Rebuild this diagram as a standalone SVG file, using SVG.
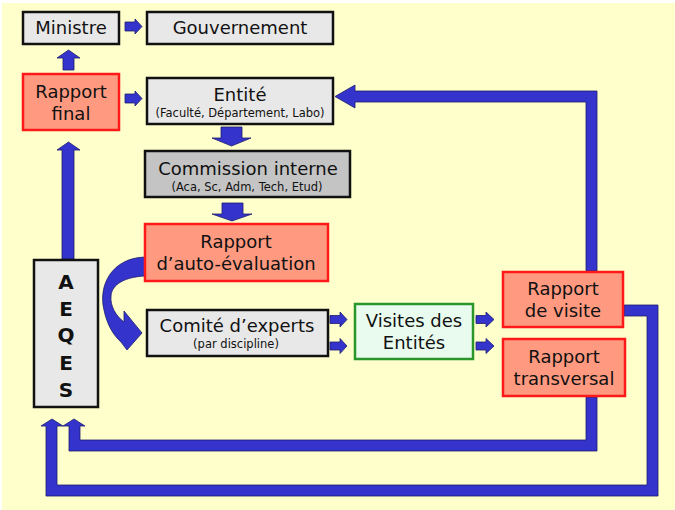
<svg xmlns="http://www.w3.org/2000/svg" width="675" height="510" viewBox="0 0 675 510">
<style>
text{font-family:"DejaVu Sans","Liberation Sans",sans-serif;fill:#111;text-anchor:middle}
.t{font-size:18px}
.s{font-size:11.5px}
.gray{fill:#e8e8e8;stroke:#111;stroke-width:2.5}
.dgray{fill:#c4c4c4;stroke:#111;stroke-width:2.5}
.red{fill:#ff9a80;stroke:#ff1a1a;stroke-width:2.5}
.green{fill:#e8fbee;stroke:#2a962a;stroke-width:2.5}
.arr{fill:#3434cc;stroke:#1c1c70;stroke-width:0.8;stroke-linejoin:miter}
.big{font-size:20px;font-weight:bold}
</style>
<rect x="2" y="3" width="673" height="507" fill="#ffffcc"/>

<g id="connectors">
  <!-- Rapport final -> Ministre -->
  <polygon class="arr" points="63,70 63,58 57,58 68.5,50 80,58 74,58 74,70"/>
  <!-- Ministre -> Gouvernement -->
  <polygon class="arr" points="125,22 135,22 135,19 142,26.5 135,34 135,31 125,31"/>
  <!-- Rapport final -> Entite -->
  <polygon class="arr" points="125,94 135,94 135,91 142,98.5 135,106 135,103 125,103"/>
  <!-- Entite -> Commission -->
  <polygon class="arr" points="221,127 242,127 242,138 251,138 231.5,146 212,138 221,138"/>
  <!-- Commission -> Rapport auto-evaluation -->
  <polygon class="arr" points="222,203 243,203 243,214 252,214 232,221 212,214 222,214"/>
  <!-- AEQES -> Rapport final -->
  <polygon class="arr" points="62,259 62,150 57,150 68.5,142 80,150 74,150 74,259"/>
  <!-- curved: Rapport auto-evaluation -> Comite -->
  <path class="arr" d="M145,257 C112,258 98,285 104,310 C107,325 114,336 121,342 L127,350 L142,333 L124,311 L124,322 C116,316 110,306 111,296 C112,284 125,277 145,276 Z"/>
  <!-- Comite -> Visites -->
  <polygon class="arr" points="330,315.5 340,315.5 340,312 347,319.5 340,327 340,323.5 330,323.5"/>
  <polygon class="arr" points="330,342 340,342 340,338.5 347,346 340,353.5 340,350 330,350"/>
  <!-- Visites -> Rapports -->
  <polygon class="arr" points="476,315.5 486,315.5 486,312 494,319.5 486,327 486,323.5 476,323.5"/>
  <polygon class="arr" points="476,342 486,342 486,338.5 494,346 486,353.5 486,350 476,350"/>
  <!-- Rapport de visite (top) -> Entite -->
  <polygon class="arr" points="597,271 597,91 355,91 355,85 335,96.5 355,108 355,102 586,102 586,271"/>
  <!-- Rapport transversal -> AEQES -->
  <polygon class="arr" points="597,397 597,451 69,451 69,426 63,426 74,419 85,426 80,426 80,440 586,440 586,397"/>
  <!-- Rapport de visite (right) -> AEQES -->
  <polygon class="arr" points="624,305 658,305 658,496 46,496 46,426 41,426 52,419 63,426 57,426 57,485 647,485 647,316 624,316"/>
</g>

<g id="ministre">
  <rect class="gray" x="23" y="12" width="96" height="32"/>
  <text class="t" x="71" y="34">Ministre</text>
</g>
<g id="gouvernement">
  <rect class="gray" x="147" y="12" width="186" height="32"/>
  <text class="t" x="240" y="34">Gouvernement</text>
</g>
<g id="rapport-final">
  <rect class="red" x="23" y="74" width="96" height="56"/>
  <text class="t" x="71" y="98">Rapport</text>
  <text class="t" x="71" y="120">final</text>
</g>
<g id="entite">
  <rect class="gray" x="147" y="78" width="186" height="46"/>
  <text class="t" x="240" y="101">Entité</text>
  <text class="s" x="240" y="117">(Faculté, Département, Labo)</text>
</g>
<g id="commission">
  <rect class="dgray" x="145" y="151" width="205" height="46"/>
  <text class="t" x="248" y="175">Commission interne</text>
  <text class="s" x="247" y="191">(Aca, Sc, Adm, Tech, Etud)</text>
</g>
<g id="rapport-auto">
  <rect class="red" x="145" y="224" width="183" height="57"/>
  <text class="t" x="236" y="248">Rapport</text>
  <text class="t" x="236" y="270">d’auto-évaluation</text>
</g>
<g id="aeqes">
  <rect class="gray" x="34" y="260" width="64" height="147"/>
  <text class="big" x="66" y="289">A</text>
  <text class="big" x="66" y="316">E</text>
  <text class="big" x="66" y="342">Q</text>
  <text class="big" x="66" y="370">E</text>
  <text class="big" x="66" y="397">S</text>
</g>
<g id="comite">
  <rect class="gray" x="147" y="310" width="181" height="46"/>
  <text class="t" x="237" y="332">Comité d’experts</text>
  <text class="s" x="236" y="348">(par discipline)</text>
</g>
<g id="visites">
  <rect class="green" x="355" y="304" width="118" height="55"/>
  <text class="t" x="414" y="327">Visites des</text>
  <text class="t" x="414" y="349">Entités</text>
</g>
<g id="rapport-visite">
  <rect class="red" x="503" y="272" width="120" height="55"/>
  <text class="t" x="563" y="295">Rapport</text>
  <text class="t" x="563" y="317">de visite</text>
</g>
<g id="rapport-transversal">
  <rect class="red" x="503" y="339" width="122" height="57"/>
  <text class="t" x="564" y="363">Rapport</text>
  <text class="t" x="564" y="385">transversal</text>
</g>
</svg>
